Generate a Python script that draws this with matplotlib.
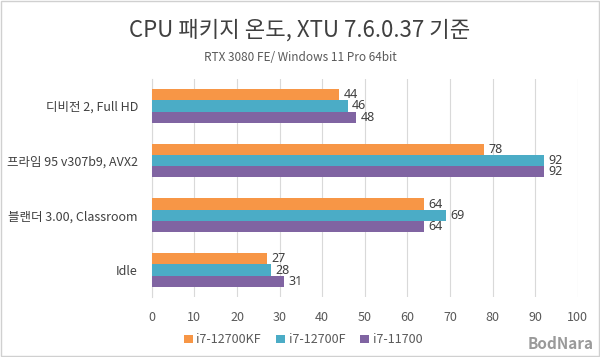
import numpy as np
import matplotlib.pyplot as plt
from matplotlib.patches import Rectangle

plt.rcParams['font.family'] = ['Noto Sans CJK KR', 'DejaVu Sans']

# chart data
categories = ['디비전 2, Full HD', '프라임 95 v307b9, AVX2', '블랜더 3.00, Classroom', 'Idle']
series_names = ['i7-12700KF', 'i7-12700F', 'i7-11700']
kf_vals = [44, 78, 64, 27]
f_vals = [46, 92, 69, 28]
r11_vals = [48, 92, 64, 31]
colors = ['#F79646', '#4BACC6', '#8064A2']

fig = plt.figure(figsize=(6, 3.57), dpi=100)
ax = fig.add_axes([0.253, 0.167, 0.71, 0.613])

y = np.arange(len(categories))
h = 0.205
for i, (vals, name) in enumerate(zip([kf_vals, f_vals, r11_vals], series_names)):
    pos = y + (i - 1) * h
    bars = ax.barh(pos, vals, height=h, color=colors[i], label=name, zorder=3)
    for b, v in zip(bars, vals):
        ax.text(v + 1, b.get_y() + h / 2, str(v), va='center', ha='left',
                fontsize=9, family='Noto Sans', color='#404040')

ax.set_xlim(0, 100)
ax.set_ylim(len(categories) - 0.5, -0.5)
ax.set_xticks(range(0, 101, 10))
ax.set_yticks(y)
ax.set_yticklabels(categories)
ax.tick_params(axis='y', length=0, pad=10, labelsize=9, labelcolor='#404040')
ax.tick_params(axis='x', length=0, pad=10, labelsize=9, labelcolor='#595959')
ax.grid(axis='x', color='#D9D9D9', linewidth=0.8, zorder=0)
for s in ['top', 'right', 'bottom']:
    ax.spines[s].set_visible(False)
ax.spines['left'].set_color('#D9D9D9')

fig.text(0.5, 0.915, 'CPU 패키지 온도, XTU 7.6.0.37 기준', ha='center', va='center',
         fontsize=16, color='#404040')
fig.text(0.5, 0.838, 'RTX 3080 FE/ Windows 11 Pro 64bit', ha='center', va='center',
         fontsize=8.5, color='#595959')

fig.legend(loc='center', bbox_to_anchor=(0.505, 0.048), ncol=3, frameon=False,
           fontsize=9, handlelength=0.7, handleheight=0.7, handletextpad=0.3,
           columnspacing=1.2, labelcolor='#595959')

fig.text(0.99, 0.015, 'BodNara', ha='right', va='bottom', fontsize=11,
         fontweight='bold', color='#9A9A9A')

fig.patches.append(Rectangle((0.002, 0.003), 0.996, 0.994, transform=fig.transFigure,
                             fill=False, edgecolor='#D0D0D0', linewidth=1))

fig.savefig('out.png', dpi=100)
